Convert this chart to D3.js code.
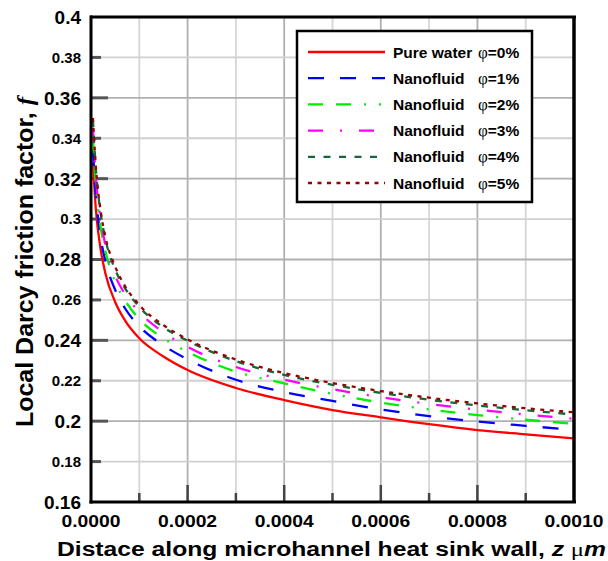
<!DOCTYPE html>
<html>
<head>
<meta charset="utf-8">
<script src="https://cdn.jsdelivr.net/npm/d3@7"></script>
<style>
	body { margin: 0; background: #fff; }
	text { font-family: Arial, "Liberation Sans", sans-serif; font-weight: bold; fill: #000; }
</style>
</head>
<body>
<div id="chart"></div>
<script>
//Dados
var zPos = [0.000004, 0.00001, 0.00002, 0.00003, 0.00005, 0.00007, 0.0001, 0.00015, 0.0002, 0.0003, 0.0004, 0.0005, 0.0006, 0.0007, 0.0008, 0.0009, 0.001];
var fWater = [0.328, 0.305, 0.285, 0.273, 0.259, 0.250, 0.241, 0.232, 0.2253, 0.2164, 0.2104, 0.2055, 0.2019, 0.1985, 0.1956, 0.1935, 0.1915];
var fPhi1 = [0.334, 0.312, 0.291, 0.279, 0.265, 0.256, 0.247, 0.2375, 0.2306, 0.2205, 0.2144, 0.2100, 0.2058, 0.2025, 0.1998, 0.1977, 0.1957];
var fPhi2 = [0.340, 0.317, 0.296, 0.284, 0.269, 0.260, 0.2505, 0.241, 0.2343, 0.2245, 0.2187, 0.2135, 0.2092, 0.2058, 0.2030, 0.2007, 0.1987];
var fPhi3 = [0.345, 0.321, 0.300, 0.287, 0.272, 0.263, 0.254, 0.244, 0.2368, 0.2268, 0.2205, 0.2158, 0.2119, 0.2085, 0.2057, 0.2033, 0.2012];
var fPhi4 = [0.349, 0.325, 0.303, 0.290, 0.275, 0.266, 0.2565, 0.2465, 0.2398, 0.2297, 0.2229, 0.2180, 0.2140, 0.2106, 0.2078, 0.2054, 0.2033];
var fPhi5 = [0.350, 0.326, 0.304, 0.291, 0.2765, 0.267, 0.2575, 0.2475, 0.2405, 0.2305, 0.2238, 0.2189, 0.2149, 0.2116, 0.2088, 0.2064, 0.2044];
var seriesNames = ["Pure water", "Nanofluid", "Nanofluid", "Nanofluid", "Nanofluid", "Nanofluid"];
var seriesPhi = ["=0%", "=1%", "=2%", "=3%", "=4%", "=5%"];
var xTicks = [0, 0.0001, 0.0002, 0.0003, 0.0004, 0.0005, 0.0006, 0.0007, 0.0008, 0.0009, 0.001];
var xTickLabels = ["0.0000", "", "0.0002", "", "0.0004", "", "0.0006", "", "0.0008", "", "0.0010"];
var yTicks = [0.16, 0.18, 0.2, 0.22, 0.24, 0.26, 0.28, 0.3, 0.32, 0.34, 0.36, 0.38, 0.4];
var yTickLabels = ["0.16", "0.18", "0.2", "0.22", "0.24", "0.26", "0.28", "0.3", "0.32", "0.34", "0.36", "0.38", "0.4"];

(function () {
	'use strict';
	var W = 608, H = 561;
	var margin = {top: 17, right: 34, bottom: 59, left: 91};
	var x = d3.scaleLinear().domain([0, 0.001]).range([margin.left, W - margin.right]);
	var y = d3.scaleLinear().domain([0.16, 0.4]).range([H - margin.bottom, margin.top]);

	var series = [
		{vals: fWater, color: "#ff0000", dash: null},
		{vals: fPhi1, color: "#0000ff", dash: "16,16"},
		{vals: fPhi2, color: "#00ee00", dash: "15,13,15,13,2,13,2,12"},
		{vals: fPhi3, color: "#ff00ff", dash: "15,17,2,17"},
		{vals: fPhi4, color: "#17673a", dash: "7,8.5"},
		{vals: fPhi5, color: "#990000", dash: "4,5.5"}
	];

	var svg = d3.select("#chart").append("svg")
		.attr("width", W)
		.attr("height", H);

	//Grade
	svg.append("g").selectAll("line")
		.data(xTicks.slice(1, -1))
		.enter().append("line")
		.attr("x1", function(d) { return x(d); })
		.attr("x2", function(d) { return x(d); })
		.attr("y1", y(0.4))
		.attr("y2", y(0.16))
		.attr("stroke", function(d, i) { return i % 2 == 1 ? "#b0b0b0" : "#d6d6d6"; })
		.attr("stroke-width", 1.8);
	svg.append("g").selectAll("line")
		.data(yTicks.slice(1, -1))
		.enter().append("line")
		.attr("x1", x(0))
		.attr("x2", x(0.001))
		.attr("y1", function(d) { return y(d); })
		.attr("y2", function(d) { return y(d); })
		.attr("stroke", function(d, i) { return i % 2 == 1 ? "#b0b0b0" : "#d0d0d0"; })
		.attr("stroke-width", 1.8);

	//Marcas dos eixos (para dentro)
	svg.append("g").selectAll("line")
		.data(xTicks.slice(1, -1))
		.enter().append("line")
		.attr("x1", function(d) { return x(d); })
		.attr("x2", function(d) { return x(d); })
		.attr("y1", y(0.16))
		.attr("y2", function(d, i) { return y(0.16) - (i % 2 == 1 ? 17 : 9); })
		.attr("stroke", "#444")
		.attr("stroke-width", 2.5);
	svg.append("g").selectAll("line")
		.data(yTicks.slice(1, -1))
		.enter().append("line")
		.attr("x1", x(0))
		.attr("x2", function(d, i) { return x(0) + (i % 2 == 1 ? 17 : 10); })
		.attr("y1", function(d) { return y(d); })
		.attr("y2", function(d) { return y(d); })
		.attr("stroke", "#555")
		.attr("stroke-width", 3);

	//Curvas
	svg.append("clipPath").attr("id", "plot-clip")
		.append("rect")
		.attr("x", x(0)).attr("y", y(0.4))
		.attr("width", x(0.001) - x(0)).attr("height", y(0.16) - y(0.4));
	var line = d3.line()
		.x(function(d, i) { return x(zPos[i]); })
		.y(function(d) { return y(d); })
		.curve(d3.curveMonotoneX);
	svg.append("g").attr("clip-path", "url(#plot-clip)")
		.selectAll("path")
		.data(series)
		.enter().append("path")
		.attr("d", function(d) { return line(d.vals); })
		.attr("fill", "none")
		.attr("stroke", function(d) { return d.color; })
		.attr("stroke-width", 2.3)
		.attr("stroke-dasharray", function(d) { return d.dash; });

	//Moldura
	var frame = svg.append("g").attr("stroke", "#000").attr("fill", "none");
	frame.append("line").attr("x1", x(0) - 1).attr("x2", x(0.001) + 2).attr("y1", y(0.4)).attr("y2", y(0.4)).attr("stroke-width", 3);
	frame.append("line").attr("x1", x(0.001)).attr("x2", x(0.001)).attr("y1", y(0.4)).attr("y2", y(0.16)).attr("stroke-width", 3.5);
	frame.append("line").attr("x1", x(0)).attr("x2", x(0)).attr("y1", y(0.4) - 1.5).attr("y2", y(0.16) + 1.5).attr("stroke-width", 3);
	frame.append("line").attr("x1", x(0) - 1.5).attr("x2", x(0.001) + 2).attr("y1", y(0.16)).attr("y2", y(0.16)).attr("stroke-width", 3);

	//Rótulos dos eixos
	svg.append("g").selectAll("text")
		.data(yTicks)
		.enter().append("text")
		.attr("x", 81)
		.attr("y", function(d) { return y(d); })
		.attr("dy", "0.36em")
		.attr("text-anchor", "end")
		.style("font-size", function(d, i) { return i % 2 == 0 ? "19px" : "15px"; })
		.text(function(d, i) { return yTickLabels[i]; });
	svg.append("g").selectAll("text")
		.data(xTicks.filter(function(d, i) { return xTickLabels[i] != ""; }))
		.enter().append("text")
		.attr("x", function(d) { return x(d) - 29.5; })
		.attr("y", 527)
		.attr("textLength", 59)
		.attr("lengthAdjust", "spacingAndGlyphs")
		.style("font-size", "17px")
		.text(function(d) { return xTickLabels[xTicks.indexOf(d)]; });

	var xl = svg.append("text")
		.attr("x", 57)
		.attr("y", 556)
		.attr("textLength", 549)
		.attr("lengthAdjust", "spacingAndGlyphs")
		.style("font-size", "19.5px");
	xl.append("tspan").text("Distace along microhannel heat sink wall, ");
	xl.append("tspan").style("font-style", "italic").text("z");
	xl.append("tspan").text(" ");
	xl.append("tspan").style("font-family", "'Liberation Serif', 'Times New Roman', serif").style("font-weight", "normal").text("\u03bc");
	xl.append("tspan").style("font-style", "italic").text("m");

	var yl = svg.append("text")
		.attr("transform", "translate(33,262) rotate(-90)")
		.attr("text-anchor", "middle")
		.attr("textLength", 330)
		.attr("lengthAdjust", "spacingAndGlyphs")
		.style("font-size", "23px");
	yl.append("tspan").text("Local Darcy friction factor, ");
	yl.append("tspan").style("font-family", "'Liberation Serif', 'Times New Roman', serif").style("font-style", "italic").text("f");

	//Legenda
	var legend = svg.append("g");
	legend.append("rect")
		.attr("x", 297).attr("y", 31)
		.attr("width", 235).attr("height", 171)
		.attr("fill", "#fff")
		.attr("stroke", "#000")
		.attr("stroke-width", 2.5);
	var rows = legend.selectAll(".leg-row")
		.data(series)
		.enter().append("g")
		.attr("class", "leg-row")
		.attr("transform", function(d, i) { return "translate(0," + (52 + i * 26.2) + ")"; });
	rows.append("line")
		.attr("x1", 308).attr("x2", 385)
		.attr("stroke", function(d) { return d.color; })
		.attr("stroke-width", 2.3)
		.attr("stroke-dasharray", function(d) { return d.dash; });
	rows.append("text")
		.attr("x", 393).attr("y", 5.5)
		.style("font-size", "15.5px")
		.text(function(d, i) { return seriesNames[i]; });
	var phi = rows.append("text")
		.attr("x", 478).attr("y", 5.5)
		.style("font-size", "15.5px");
	phi.append("tspan")
		.style("font-family", "'Liberation Serif', 'Times New Roman', serif")
		.style("font-weight", "normal")
		.style("font-size", "17px")
		.text("\u03c6");
	phi.append("tspan").text(function(d, i) { return seriesPhi[i]; });
}());
</script>
</body>
</html>
